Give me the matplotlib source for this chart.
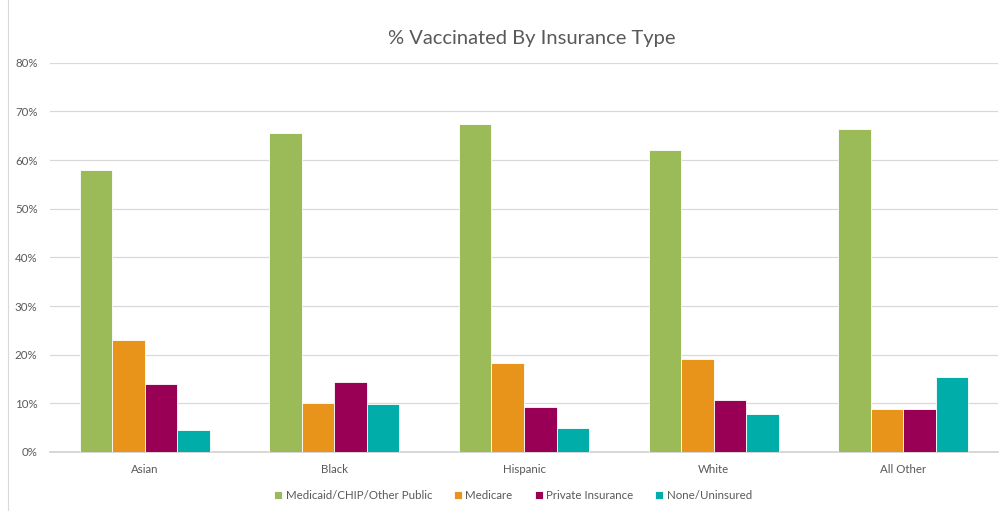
import matplotlib
matplotlib.use("Agg")
import matplotlib.pyplot as plt
import numpy as np
from matplotlib.ticker import PercentFormatter
from matplotlib.lines import Line2D

categories = ["Asian", "Black", "Hispanic", "White", "All Other"]
series_names = ["Medicaid/CHIP/Other Public", "Medicare", "Private Insurance", "None/Uninsured"]
medicaid = [58.0, 65.5, 67.4, 62.0, 66.3]
medicare = [23.1, 10.0, 18.2, 19.1, 8.8]
private = [14.0, 14.3, 9.2, 10.7, 8.9]
uninsured = [4.5, 9.8, 4.9, 7.9, 15.5]
colors = ["#9BBB59", "#E8941A", "#990055", "#00ADA8"]

plt.rcParams['font.family'] = ['Lato', 'DejaVu Sans']

fig = plt.figure(figsize=(10, 5.11), dpi=100)
ax = fig.add_axes([0.05, 0.1155, 0.948, 0.7615])

x = np.arange(len(categories))
bw = 0.1715
values = [medicaid, medicare, private, uninsured]
for i, (vals, name, c) in enumerate(zip(values, series_names, colors)):
    ax.bar(x + (i - 1.5) * bw, vals, width=bw, color=c, label=name,
           edgecolor="white", linewidth=0.6, zorder=3)

ax.set_xlim(-0.5, len(categories) - 0.5)
ax.set_ylim(0, 80)
ax.set_yticks(np.arange(0, 81, 10))
ax.yaxis.set_major_formatter(PercentFormatter(decimals=0))
ax.set_xticks(x)
ax.set_xticklabels(categories)
ax.tick_params(axis="both", length=0, labelsize=8.3, colors="#595959")
ax.tick_params(axis="x", pad=9)
ax.tick_params(axis="y", pad=9)
ax.grid(axis="y", color="#D9D9D9", linewidth=0.9, zorder=0)
for s in ["top", "right", "left"]:
    ax.spines[s].set_visible(False)
ax.spines["bottom"].set_color("#D0D0D0")
ax.spines["bottom"].set_linewidth(1.2)

fig.text(0.532, 0.925, "% Vaccinated By Insurance Type", ha="center", va="center",
         fontsize=14.5, color="#595959")

leg = fig.legend(loc="center", bbox_to_anchor=(0.513, 0.031), ncol=4, frameon=False,
                 fontsize=8.3, handlelength=0.7, handleheight=0.7, handletextpad=0.3,
                 columnspacing=1.9)
for t in leg.get_texts():
    t.set_color("#595959")

fig.add_artist(Line2D([0.008, 0.008], [0, 1], transform=fig.transFigure, color="#D9D9D9", linewidth=0.8))

fig.savefig("out.png", dpi=100)
